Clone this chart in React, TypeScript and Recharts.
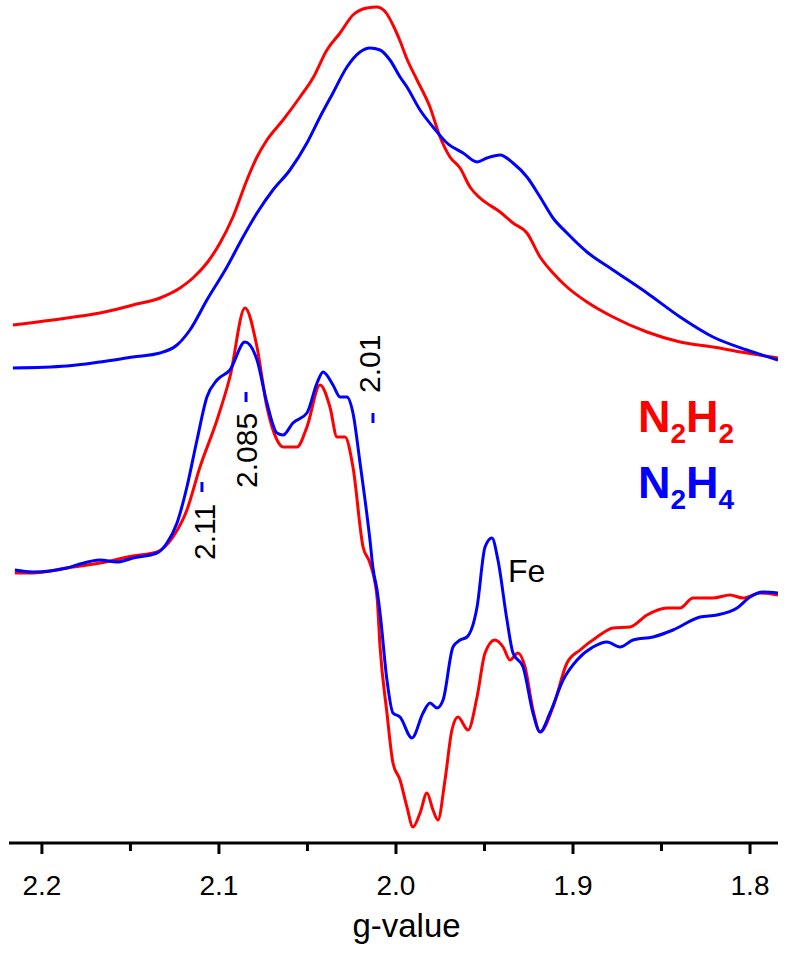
import React from 'react';
import { LineChart, Line, XAxis, YAxis, ReferenceDot } from 'recharts';

const FONT = '"Liberation Sans", Arial, Helvetica, sans-serif';
const RED = '#ff0000';
const BLUE = '#0000ff';

// ---- Absorption-like (integrated) spectra, g-value vs intensity (a.u., offset) ----
const absN2H2G = [2.2164, 2.1859, 2.1672, 2.1486, 2.1333, 2.1220, 2.1147, 2.1068, 2.0994, 2.0921, 2.0842, 2.0785, 2.0729, 2.0638, 2.0542, 2.0469, 2.0390, 2.0316, 2.0243, 2.0164, 2.0107, 2.0051, 2.0017, 1.9977, 1.9938, 1.9881, 1.9808, 1.9751, 1.9695, 1.9638, 1.9582, 1.9525, 1.9412, 1.9339, 1.9260, 1.9186, 1.9113, 1.9034, 1.8921, 1.8774, 1.8582, 1.8395, 1.8209, 1.8017, 1.7842];
const absN2H2I = [518, 525, 530, 538, 545, 555, 565, 580, 600, 626, 663, 686, 703, 723, 746, 765, 793, 810, 828, 835, 836, 829, 818, 802, 784, 763, 736, 706, 686, 675, 656, 645, 631, 620, 610, 586, 570, 556, 541, 526, 511, 501, 496, 490, 485];

const absN2H4G = [2.2164, 2.1859, 2.1672, 2.1486, 2.1333, 2.1237, 2.1164, 2.1068, 2.0955, 2.0864, 2.0785, 2.0695, 2.0599, 2.0503, 2.0429, 2.0356, 2.0277, 2.0203, 2.0147, 2.0090, 2.0034, 1.9977, 1.9938, 1.9864, 1.9791, 1.9712, 1.9621, 1.9542, 1.9486, 1.9412, 1.9339, 1.9260, 1.9186, 1.9113, 1.9034, 1.8921, 1.8774, 1.8582, 1.8395, 1.8209, 1.8017, 1.7842];
const absN2H4I = [475, 477, 481, 486, 490, 498, 513, 543, 576, 606, 630, 653, 673, 700, 726, 750, 776, 791, 795, 793, 783, 766, 756, 733, 716, 700, 690, 681, 685, 688, 680, 666, 646, 625, 610, 591, 573, 550, 526, 506, 493, 483];

// ---- Derivative spectra ----
const derN2H2G = [2.2153, 2.2051, 2.1859, 2.1672, 2.1486, 2.1350, 2.1260, 2.1181, 2.1107, 2.1011, 2.0938, 2.0853, 2.0785, 2.0729, 2.0672, 2.0638, 2.0559, 2.0503, 2.0429, 2.0373, 2.0333, 2.0288, 2.0243, 2.0186, 2.0147, 2.0107, 2.0090, 2.0051, 2.0017, 1.9977, 1.9938, 1.9904, 1.9864, 1.9825, 1.9791, 1.9763, 1.9723, 1.9684, 1.9650, 1.9593, 1.9542, 1.9497, 1.9441, 1.9395, 1.9356, 1.9311, 1.9271, 1.9226, 1.9186, 1.9113, 1.9034, 1.8960, 1.8864, 1.8774, 1.8678, 1.8582, 1.8469, 1.8395, 1.8322, 1.8209, 1.8113, 1.8040, 1.7944, 1.7842];
const derN2H2I = [270, 270, 275, 280, 287, 291, 306, 333, 376, 423, 466, 535, 496, 436, 403, 396, 396, 416, 458, 436, 406, 406, 376, 296, 280, 246, 196, 130, 80, 63, 36, 16, 30, 50, 33, 23, 63, 113, 126, 113, 146, 190, 203, 196, 183, 190, 176, 133, 111, 136, 180, 193, 206, 215, 216, 228, 235, 235, 245, 245, 248, 245, 250, 248];

const derN2H4G = [2.2153, 2.2051, 2.1859, 2.1802, 2.1672, 2.1576, 2.1486, 2.1350, 2.1294, 2.1237, 2.1181, 2.1124, 2.1068, 2.1011, 2.0938, 2.0853, 2.0785, 2.0729, 2.0672, 2.0638, 2.0582, 2.0503, 2.0446, 2.0412, 2.0356, 2.0316, 2.0277, 2.0243, 2.0203, 2.0147, 2.0130, 2.0107, 2.0090, 2.0051, 2.0017, 1.9977, 1.9910, 1.9847, 1.9808, 1.9768, 1.9734, 1.9678, 1.9638, 1.9599, 1.9542, 1.9497, 1.9458, 1.9424, 1.9373, 1.9339, 1.9282, 1.9226, 1.9186, 1.9130, 1.9056, 1.8977, 1.8887, 1.8808, 1.8734, 1.8661, 1.8548, 1.8435, 1.8282, 1.8186, 1.8073, 1.8000, 1.7927, 1.7842];
const derN2H4I = [273, 271, 275, 278, 283, 281, 285, 290, 300, 320, 356, 403, 446, 463, 473, 501, 483, 440, 410, 408, 420, 430, 460, 471, 458, 446, 446, 430, 380, 303, 275, 253, 230, 163, 130, 126, 105, 130, 140, 135, 143, 196, 203, 206, 236, 296, 305, 283, 223, 190, 176, 130, 111, 130, 163, 183, 196, 201, 196, 203, 206, 213, 226, 228, 235, 246, 251, 250];

// ---- Axis ----
const tickValues = [2.2, 2.15, 2.1, 2.05, 2.0, 1.95, 1.9, 1.85, 1.8];
const majorTicks = [2.2, 2.1, 2.0, 1.9, 1.8];
const gDomain = [1.7842, 2.2186];
const intensityDomain = [0, 843];

// ---- Annotations ----
const markerLabels = ['2.11', '2.085', '2.01'];
const markerG = [2.1096, 2.0847, 2.013];
const markerLevel = [356, 446, 425];
const feLabelG = 1.9367;
const feLabelLevel = 261;
const legendG = 1.8633;
const legendLevels = [411, 345];

const zip = (g: number[], v: number[]) => g.map((x, i) => ({ g: x, v: v[i] }));

const series = [
  { name: 'N2H2 abs', data: zip(absN2H2G, absN2H2I), color: RED },
  { name: 'N2H4 abs', data: zip(absN2H4G, absN2H4I), color: BLUE },
  { name: 'N2H2 deriv', data: zip(derN2H2G, derN2H2I), color: RED },
  { name: 'N2H4 deriv', data: zip(derN2H4G, derN2H4I), color: BLUE },
];

// text offsets for the rotated labels relative to the marker dash centre
const markerTextOffsets = [
  { dx: 13, dy: 73 },
  { dx: 11, dy: 91 },
  { dx: 7, dy: -25 },
];

function GTick(props: any) {
  const { x, y, payload } = props;
  const v = payload.value as number;
  const major = majorTicks.some((m) => Math.abs(m - v) < 1e-6);
  return (
    <g>
      <line x1={x} x2={x} y1={y} y2={y + (major ? 11 : 8)} stroke="#000" strokeWidth={3} />
      {major && (
        <text x={x} y={y + 52} textAnchor="middle" fontSize={28} fontFamily={FONT} fill="#000">
          {v.toFixed(1)}
        </text>
      )}
    </g>
  );
}

function AxisTitle(props: any) {
  const vb = props.viewBox || { x: 9, y: 843, width: 769, height: 114 };
  return (
    <text x={vb.x + vb.width / 2 + 13} y={vb.y + 94} textAnchor="middle" fontSize={33} fontFamily={FONT} fill="#000">
      g-value
    </text>
  );
}

function Formula({ x, y, color, sub }: { x: number; y: number; color: string; sub: string }) {
  return (
    <text x={x} y={y} fontSize={45} fontWeight="bold" fontFamily={FONT} fill={color}>
      N
      <tspan fontSize={28} dy={11}>2</tspan>
      <tspan fontSize={45} dy={-11}>H</tspan>
      <tspan fontSize={28} dy={11}>{sub}</tspan>
    </text>
  );
}

export default function App() {
  return (
    <div style={{ position: 'absolute', left: 0, top: 0, width: 788, height: 957, background: '#fff' }}>
      <LineChart width={788} height={957} margin={{ top: 0, right: 10, bottom: 0, left: 9 }}>
        <XAxis
          type="number"
          dataKey="g"
          domain={gDomain}
          reversed
          allowDataOverflow
          ticks={tickValues}
          interval={0}
          tickSize={0}
          tickMargin={0}
          tickLine={false}
          tick={<GTick />}
          axisLine={{ stroke: '#000', strokeWidth: 3 }}
          height={114}
          label={<AxisTitle />}
        />
        <YAxis type="number" dataKey="v" domain={intensityDomain} hide allowDataOverflow />
        {series.map((s) => (
          <Line
            key={s.name}
            data={s.data}
            dataKey="v"
            name={s.name}
            type="monotone"
            stroke={s.color}
            strokeWidth={3}
            strokeLinejoin="round"
            dot={false}
            activeDot={false}
            isAnimationActive={false}
          />
        ))}
        {markerG.map((g, i) => (
          <ReferenceDot
            key={markerLabels[i]}
            x={g}
            y={markerLevel[i]}
            ifOverflow="visible"
            shape={(p: any) => (
              <g>
                <line x1={p.cx} x2={p.cx} y1={p.cy - 5} y2={p.cy + 5} stroke={BLUE} strokeWidth={3} />
                <text
                  transform={`translate(${p.cx + markerTextOffsets[i].dx},${p.cy + markerTextOffsets[i].dy}) rotate(-90)`}
                  fontSize={30}
                  fontFamily={FONT}
                  fill="#000"
                >
                  {markerLabels[i]}
                </text>
              </g>
            )}
          />
        ))}
        <ReferenceDot
          x={feLabelG}
          y={feLabelLevel}
          ifOverflow="visible"
          shape={(p: any) => (
            <text x={p.cx} y={p.cy} fontSize={32} fontFamily={FONT} fill="#000">
              Fe
            </text>
          )}
        />
        <ReferenceDot
          x={legendG}
          y={legendLevels[0]}
          ifOverflow="visible"
          shape={(p: any) => <Formula x={p.cx} y={p.cy} color={RED} sub="2" />}
        />
        <ReferenceDot
          x={legendG}
          y={legendLevels[1]}
          ifOverflow="visible"
          shape={(p: any) => <Formula x={p.cx} y={p.cy} color={BLUE} sub="4" />}
        />
      </LineChart>
    </div>
  );
}
